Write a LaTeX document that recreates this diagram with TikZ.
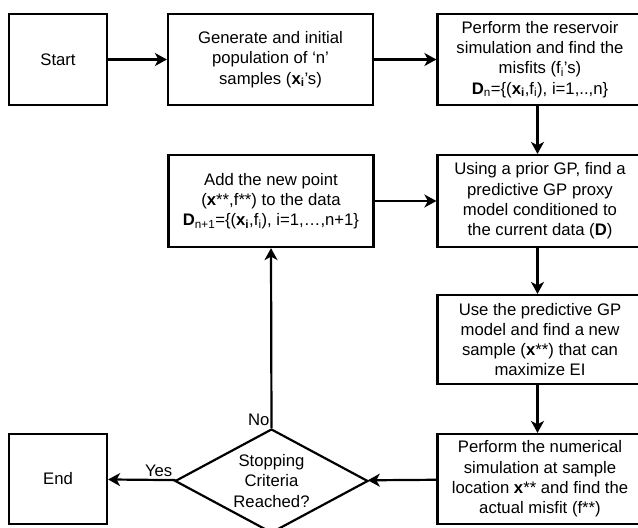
\documentclass[tikz,border=0pt]{standalone}
\usepackage{fontspec}
\setmainfont{Liberation Sans}
\usetikzlibrary{arrows.meta,shapes.geometric}

\begin{document}
\begin{tikzpicture}[
    x=1pt, y=-1pt,
    box/.style={rectangle, draw, line width=2.2pt, inner sep=0pt, align=center, font=\fontsize{16.7}{20.3}\selectfont},
    wide/.style={box, minimum width=205pt, minimum height=91pt},
    small/.style={box, minimum width=98pt, minimum height=91pt},
    decision/.style={diamond, draw, line width=2.2pt, inner sep=0pt, aspect=1.86, align=center, font=\fontsize{16.7}{20.3}\selectfont},
    arrow/.style={-{Stealth[length=12pt, width=13pt, inset=3.5pt]}, line width=2.2pt},
    lbl/.style={font=\fontsize{16.7}{20.3}\selectfont}
]
    \useasboundingbox (0,0) rectangle (638,528);
    \node[small] (start) at (58,59.5) {Start};
    \node[wide] (gen) at (270.5,59.5) {Generate and initial\\population of ‘n’\\samples (\textbf{x\textsubscript{i}}’s)};
    \node[wide] (sim) at (540,59.5) {Perform the reservoir\\simulation and find the\\misfits (f\textsubscript{i}’s)\\\textbf{D}\textsubscript{n}=\{(\textbf{x\textsubscript{i}},f\textsubscript{i}), i=1,..,n\}};
    \node[wide, minimum height=92pt] (gp) at (540,201) {Using a prior GP, find a\\predictive GP proxy\\model conditioned to\\the current data (\textbf{D})};
    \node[wide, minimum height=92pt] (add) at (271,201) {Add the new point\\(\textbf{x}**,f**) to the data\\\textbf{D}\textsubscript{n+1}=\{(\textbf{x\textsubscript{i}},f\textsubscript{i}), i=1,…,n+1\}};
    \node[wide, minimum height=89pt] (ei) at (540,339.5) {Use the predictive GP\\model and find a new\\sample (\textbf{x}**) that can\\maximize EI};
    \node[wide, minimum height=90pt] (num) at (540,479) {Perform the numerical\\simulation at sample\\location \textbf{x}** and find the\\actual misfit (f**)};
    \node[decision, minimum width=193pt, minimum height=104pt] (stop) at (271.5,481) {Stopping\\Criteria\\Reached?};
    \node[small, minimum height=90pt] (end) at (58,479) {End};
    \draw[arrow] (start) -- (gen);
    \draw[arrow] (gen) -- (sim.west);
    \draw[arrow] (sim.south -| 537.5,0) -- (gp.north -| 537.5,0);
    \draw[arrow] (gp.south -| 537.5,0) -- (ei.north -| 537.5,0);
    \draw[arrow] (ei.south -| 537.5,0) -- (num.north -| 537.5,0);
    \draw[arrow] (num) -- (stop);
    \draw[arrow] (stop) -- node[lbl, above, pos=0.25, inner sep=2pt]{Yes} (end);
    \draw[arrow] (stop.north) node[lbl, above left, inner sep=1pt]{No} -- (add.south);
    \draw[arrow] (add) -- (gp);
\end{tikzpicture}
\end{document}
